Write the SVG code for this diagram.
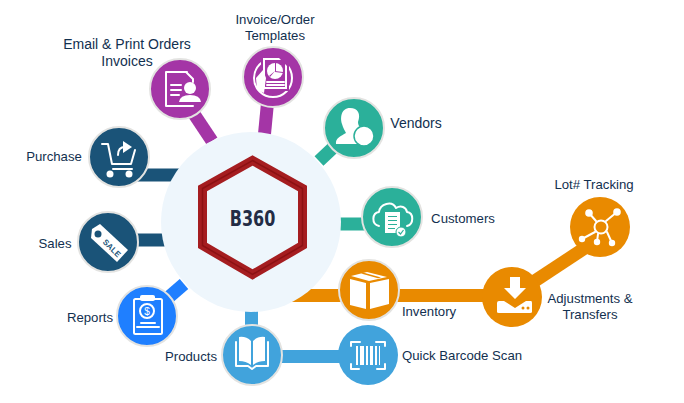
<svg xmlns="http://www.w3.org/2000/svg" width="684" height="403" viewBox="0 0 684 403">
<style>
text{font-family:"Liberation Sans",Arial,sans-serif;font-size:13.2px;fill:#12304f;text-anchor:middle}
.big{font-size:14px}
.ring{stroke:#e3e3e1;stroke-width:2}
.navy{fill:#1a5378}.purple{fill:#a435a6}.teal{fill:#2bb09a}.orange{fill:#e98a00}.blue{fill:#1f7fff}.sky{fill:#41a3dc}
.w{fill:#fff}.wl{fill:none;stroke:#fff;stroke-width:2;stroke-linecap:round;stroke-linejoin:round}
.c{fill:none;stroke-width:13}
</style>
<rect width="684" height="403" fill="#fff"/>
<g id="connectors" class="c">
<path d="M180 93L212 141" stroke="#a435a6"/>
<path d="M270 77L264.500 134" stroke="#a435a6"/>
<path d="M354 128L319 161" stroke="#2bb09a"/>
<path d="M392 224H335" stroke="#2bb09a"/>
<path d="M119 175H180" stroke="#1a5378"/>
<path d="M108 240H170" stroke="#1a5378"/>
<path d="M147 316L184 284" stroke="#1f7fff"/>
<path d="M251.500 355V305" stroke="#41a3dc"/>
<path d="M252 356.500H368" stroke="#41a3dc"/>
<path d="M285 295.500H512" stroke="#e98a00"/>
<path d="M512 296L600 238" stroke="#e98a00"/>
</g>
<g id="hub">
<circle cx="251" cy="222" r="90" fill="#eef6fc"/>
<path d="M252.500 160.500L302.500 188.500V245.500L252.500 274.500L202.500 245.500V188.500Z" fill="none" stroke="#a51d20" stroke-width="9" stroke-linejoin="miter"/>
<path d="M252.500 160.500L302.500 188.500V245.500L252.500 274.500L202.500 245.500V188.500Z" fill="none" stroke="#8c1113" stroke-width="1.500"/>
<text transform="translate(252.500 225.500) scale(1 1.300)" style="font-family:'DejaVu Sans',sans-serif;font-weight:700;font-size:16px;fill:#232c45">B360</text>
</g>
<g id="email">
<circle class="purple ring" cx="180" cy="89" r="30"/>
<path class="wl" d="M187 72H166V106H193M179 72H186L193 79V82" stroke-width="2.200"/>
<path class="wl" d="M171 85H181M171 90H181M171 95H179" stroke-width="1"/>
<circle class="w" cx="190" cy="88" r="6"/><path class="w" d="M179 102Q180 95 190 95Q200 95 201 102Z"/>
<text class="big" x="127" y="49">Email &amp; Print Orders</text><text class="big" x="127" y="66">Invoices</text>
</g>
<g id="templates">
<circle class="purple ring" cx="273" cy="77" r="30"/>
<circle class="wl" cx="273" cy="78" r="19" stroke-width="2.500"/>
<path class="purple" d="M261 57H289V91H261Z"/>
<path class="w" d="M263 58H279L287 66V89H263Z"/><path class="purple" d="M265 60H285V87H265Z"/>
<circle class="w" cx="275" cy="71" r="8"/><path class="purple" d="M275 71V62H276V71ZM275 71L283 72V73L275 72ZM275 71L270 77L269 76Z"/>
<path class="wl" d="M267 82H284M267 85H284M267 88H284" stroke-width="1"/>
<path class="w" d="M257 90L256 78L263 70L266 78L264 93Z"/>
<text x="275" y="24">Invoice/Order</text><text x="275" y="40">Templates</text>
</g>
<g id="vendors">
<circle class="teal ring" cx="354" cy="128" r="30"/>
<path class="w" d="M350 108C341 108 340 118 342 124C343 128 345 131 346 133C341 136 335 138 336 144H360L362 128C359 127 358 125 358 122C361 114 358 108 350 108Z"/>
<circle class="w" cx="364" cy="136" r="10" stroke="#2bb09a" stroke-width="1.500"/>
<text class="big" x="416" y="128">Vendors</text>
</g>
<g id="purchase">
<circle class="navy ring" cx="119" cy="157" r="30"/>
<path class="wl" d="M102 144H108L112 164H131L135 150M113 169H132" stroke-width="2.800"/>
<circle class="w" cx="110" cy="174" r="3.500"/><circle class="w" cx="129" cy="174" r="3.500"/>
<path class="wl" d="M118 155C118 149 121 147 125 147" stroke-width="2.500"/><path class="w" d="M123 141L132 147L123 153Z"/>
<text x="54" y="161">Purchase</text>
</g>
<g id="sales">
<circle class="navy ring" cx="108" cy="242" r="30"/>
<path class="w" d="M92 229L100 224L128 250L117 262L91 238Z"/>
<circle class="navy" cx="98" cy="234" r="3.500"/>
<text x="112" y="251" transform="rotate(45 112 248)" style="font-size:8px;font-weight:700;fill:#1a5378">SALE</text>
<text x="55" y="248">Sales</text>
</g>
<g id="reports">
<circle class="blue ring" cx="147" cy="316" r="30"/>
<rect class="wl" x="134" y="299" width="28" height="35" rx="1.500" stroke-width="1.500"/>
<rect class="w" x="140" y="295" width="15" height="6" rx="2"/>
<circle class="wl" cx="147" cy="311" r="7" stroke-width="1.500"/>
<text x="147" y="315" style="font-size:10px;fill:#fff">$</text>
<path class="wl" d="M141 323H155M137 327H159" stroke-width="1.500"/>
<text x="90" y="322">Reports</text>
</g>
<g id="products">
<circle class="sky ring" cx="252" cy="355" r="30"/>
<path class="w" d="M239 337Q246 336 251 341V365Q246 361 239 361Z"/>
<path class="w" d="M265 337Q258 336 253 341V365Q258 361 265 361Z"/>
<path class="wl" d="M236 342V366H248L252 369L256 366H268V342" stroke-width="2"/>
<text x="191" y="361">Products</text>
</g>
<g id="barcode">
<circle class="sky" cx="368" cy="355" r="30"/>
<path class="wl" d="M351 346V342H360M376 342H385V346M351 364V369H359M377 369H385V364" stroke-width="1.500"/>
<path class="w" d="M356 346h2v19h-2zM360 346h4v19h-4zM366 346h2v19h-2zM370 346h3v19h-3zM375 346h2v19h-2zM379 346h1v19h-1z"/>
<text x="462" y="360">Quick Barcode Scan</text>
</g>
<g id="inventory">
<circle class="orange ring" cx="369" cy="290" r="30"/>
<path class="w" d="M350 279L366 283V309L350 305Z"/><path class="w" d="M370 283L389 279V304L370 309Z"/>
<path class="w" d="M351 276L367 272L387 277L369 281Z"/>
<path fill="#e98a00" d="M361 273.500L364 272.800L381 277.500L378 278.300Z"/>
<text x="429" y="316">Inventory</text>
</g>
<g id="customers">
<circle class="teal ring" cx="392" cy="217" r="30"/>
<path class="wl" d="M379 226C371 224 372 213 379 212C380 204 392 200 396 208C401 205 406 207 407 212C414 213 414 224 407 226" stroke-width="1.500"/>
<rect class="w" x="385" y="212" width="15" height="21"/>
<path fill="#2bb09a" d="M388 216h9v1h-9zM388 220h9v1h-9zM388 224h9v1h-9zM388 228h7v1h-7z"/>
<circle class="w" cx="401" cy="232" r="5" stroke="#2bb09a"/>
<path d="M398.500 232L400.500 234L403.500 230" fill="none" stroke="#2bb09a" stroke-width="1.200"/>
<text x="463" y="223">Customers</text>
</g>
<g id="adjustments">
<circle class="orange" cx="512" cy="297" r="30"/>
<path class="w" d="M510 277H520V288H526L515 299L504 288H510Z"/>
<path class="w" d="M497 303Q497 301 499 301L504 301L515 308L526 301L531 301Q532 301 532 303V312Q532 313 530 313H499Q497 313 497 312Z"/>
<circle class="orange" cx="523" cy="308" r="1.500"/><circle class="orange" cx="528" cy="308" r="1.500"/>
<text x="590" y="303">Adjustments &amp;</text><text x="590" y="319">Transfers</text>
</g>
<g id="lot">
<circle class="orange" cx="600" cy="227" r="30"/>
<path class="wl" d="M589 213L596 221M617 212L606 221M582 239L595 232M607 232L612 243M598 234L597 242" stroke-width="2.200"/>
<circle class="wl" cx="601" cy="227" r="6.500" stroke-width="3.500"/>
<circle class="w" cx="589" cy="213" r="3.800"/><circle class="w" cx="617" cy="212" r="3.800"/><circle class="w" cx="582" cy="239" r="3.200"/><circle class="w" cx="597" cy="242" r="3.200"/><circle class="w" cx="612" cy="243" r="3.200"/>
<text x="594" y="189">Lot# Tracking</text>
</g>
</svg>
